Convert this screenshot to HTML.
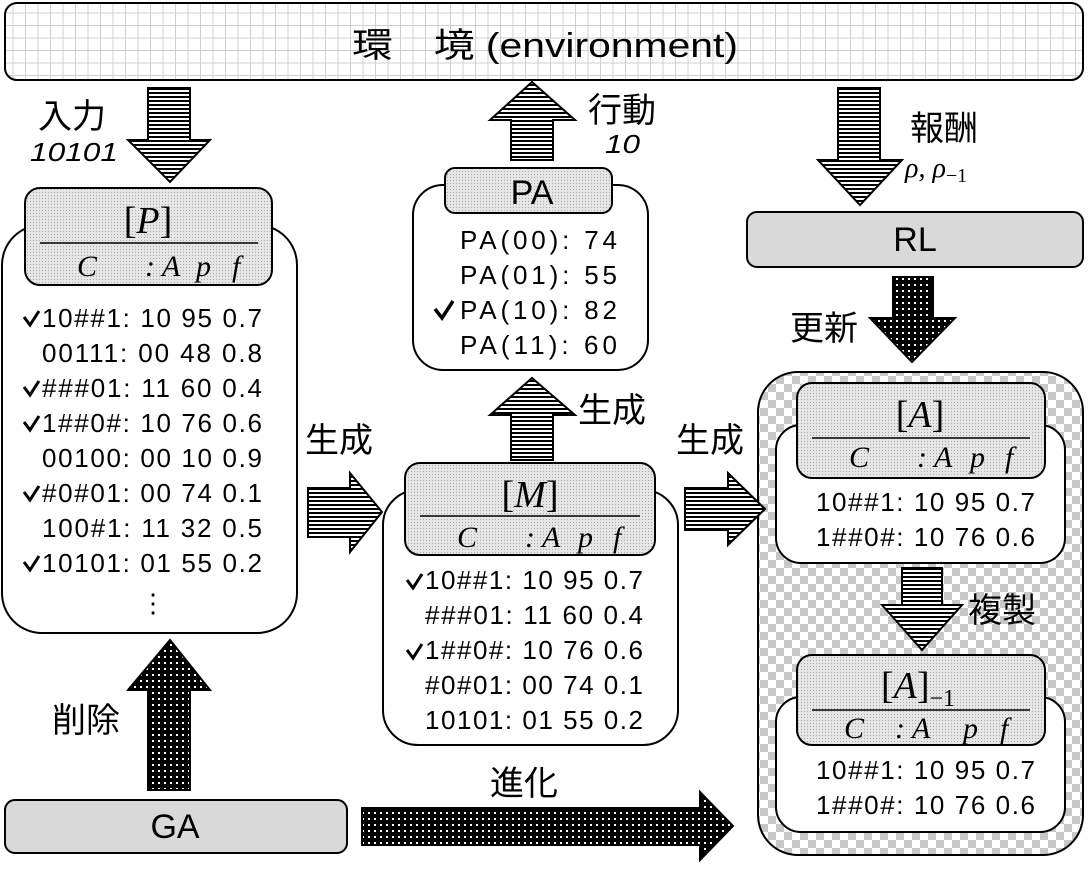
<!DOCTYPE html>
<html><head><meta charset="utf-8"><style>body{margin:0;background:#fff}svg{display:block}</style></head><body>
<svg width="1088" height="869" viewBox="0 0 1088 869" xmlns="http://www.w3.org/2000/svg" font-family="Liberation Sans, Noto Sans CJK JP, sans-serif">
<defs>
<pattern id="grid" width="12.5" height="12.5" patternUnits="userSpaceOnUse"><rect width="12.5" height="12.5" fill="#fff"/><path d="M0 0H12.5M0 0V12.5" stroke="#d0d0d0" stroke-width="2"/></pattern>
<pattern id="stripe" width="4" height="4" patternUnits="userSpaceOnUse"><rect width="4" height="4" fill="#fff"/><rect width="4" height="2" fill="#000"/></pattern>
<pattern id="dots" width="6" height="6" patternUnits="userSpaceOnUse"><rect width="6" height="6" fill="#000"/><rect x="2" y="2" width="2" height="2" fill="#fff"/></pattern>
<pattern id="gdot" width="3" height="3" patternUnits="userSpaceOnUse"><rect width="3" height="3" fill="#e6e6e6"/><rect width="1" height="1" fill="#aaa"/></pattern>
<pattern id="check" width="16" height="16" patternUnits="userSpaceOnUse"><rect width="16" height="16" fill="#fff"/><rect width="8" height="8" fill="#c8c8c8"/><rect x="8" y="8" width="8" height="8" fill="#c8c8c8"/></pattern>
</defs>
<g stroke="#000" stroke-width="2">
<rect x="5" y="3" width="1078" height="77" rx="12" fill="url(#grid)"/>
<!-- boxes -->
<rect x="2" y="225" width="295" height="408" rx="40" fill="#fff"/>
<rect x="25" y="188" width="247" height="97" rx="15" fill="url(#gdot)"/>
<rect x="413" y="185" width="235" height="185" rx="30" fill="#fff"/>
<rect x="445" y="168" width="167" height="45" rx="10" fill="url(#gdot)"/>
<rect x="747" y="212" width="336" height="55" rx="10" fill="#d9d9d9"/>
<rect x="383" y="490" width="295" height="255" rx="35" fill="#fff"/>
<rect x="405" y="463" width="250" height="92" rx="15" fill="url(#gdot)"/>
<rect x="758" y="372" width="325" height="483" rx="40" fill="url(#check)"/>
<rect x="776" y="425" width="289" height="138" rx="25" fill="#fff"/>
<rect x="797" y="383" width="248" height="95" rx="15" fill="url(#gdot)"/>
<rect x="776" y="697" width="289" height="135" rx="25" fill="#fff"/>
<rect x="797" y="655" width="248" height="90" rx="15" fill="url(#gdot)"/>
<rect x="5" y="800" width="342" height="53" rx="10" fill="#d9d9d9"/>
<path d="M40 243H258M420 516H640M812 438H1030M812 710H1030" stroke-width="1.5" fill="none"/>
<!-- arrows -->
<path d="M148 88H190V140H210L170 182L128 140H148Z" fill="url(#stripe)"/>
<path d="M511 160H553V120H575L532 82L490 120H511Z" fill="url(#stripe)"/>
<path d="M838 88H880V160H902L860 205L818 160H838Z" fill="url(#stripe)"/>
<path d="M893 277H933V318H955L912 362L870 318H893Z" fill="url(#dots)"/>
<path d="M511 460H553V415H575L532 378L490 415H511Z" fill="url(#stripe)"/>
<path d="M308 488H350V473L382 512L350 552V537H308Z" fill="url(#stripe)"/>
<path d="M685 488H728V473L765 509L728 545V530H685Z" fill="url(#stripe)"/>
<path d="M902 568H942V605H962L922 650L882 605H902Z" fill="url(#stripe)"/>
<path d="M148 790H190V690H210L170 640L128 690H148Z" fill="url(#dots)"/>
<path d="M362 808H700V792L733 826L700 860V845H362Z" fill="url(#dots)"/>
</g>
<g font-size="34">
<text x="352" y="57" textLength="386" lengthAdjust="spacingAndGlyphs">環　境 (environment)</text>
<text x="532" y="204" text-anchor="middle">PA</text>
<text x="915" y="251" text-anchor="middle">RL</text>
<text x="175" y="838" text-anchor="middle">GA</text>
</g>
<g font-size="34">
<text x="38" y="128">入力</text>
<text x="588" y="122">行動</text>
<text x="910" y="140">報酬</text>
<text x="790" y="340">更新</text>
<text x="578" y="422">生成</text>
<text x="305" y="452">生成</text>
<text x="676" y="452">生成</text>
<text x="968" y="622">複製</text>
<text x="52" y="732">削除</text>
<text x="490" y="795">進化</text>
</g>
<g font-size="26" font-style="italic">
<text x="30" y="161" textLength="88" lengthAdjust="spacingAndGlyphs">10101</text>
<text x="605" y="153" textLength="35" lengthAdjust="spacingAndGlyphs">10</text>
</g>
<g font-family="Liberation Serif, serif" font-size="28" font-style="italic">
<text x="905" y="177">ρ, ρ<tspan font-size="20" dy="5" font-style="normal">−1</tspan></text>
</g>
<g font-family="Liberation Serif, serif" text-anchor="middle">
<text x="148" y="233" font-size="38">[<tspan font-style="italic">P</tspan>]</text>
<text x="530" y="507" font-size="38">[<tspan font-style="italic">M</tspan>]</text>
<text x="920" y="427" font-size="38">[<tspan font-style="italic">A</tspan>]</text>
<text x="918" y="698" font-size="38">[<tspan font-style="italic">A</tspan>]<tspan font-size="24" dy="8" font-style="normal">−1</tspan></text>
</g>
<g font-family="Liberation Serif, serif" font-size="30" font-style="italic">
<text x="77" y="276">C</text><text x="145" y="276">: A</text><text x="196" y="276">p</text><text x="232" y="276">f</text>
<text x="457" y="547">C</text><text x="525" y="547">: A</text><text x="578" y="547">p</text><text x="613" y="547">f</text>
<text x="849" y="467">C</text><text x="917" y="467">: A</text><text x="970" y="467">p</text><text x="1005" y="467">f</text>
<text x="844" y="738">C</text><text x="895" y="738">: A</text><text x="963" y="738">p</text><text x="1000" y="738">f</text>
</g>
<g font-size="26">
<text x="42" y="327" textLength="220">10##1: 10 95 0.7</text>
<text x="42" y="362" textLength="220">00111: 00 48 0.8</text>
<text x="42" y="397" textLength="220">###01: 11 60 0.4</text>
<text x="42" y="432" textLength="220">1##0#: 10 76 0.6</text>
<text x="42" y="467" textLength="220">00100: 00 10 0.9</text>
<text x="42" y="502" textLength="220">#0#01: 00 74 0.1</text>
<text x="42" y="537" textLength="220">100#1: 11 32 0.5</text>
<text x="42" y="572" textLength="220">10101: 01 55 0.2</text>
<text x="140" y="612">⋮</text>
<text x="460" y="249" textLength="157">PA(00): 74</text>
<text x="460" y="284" textLength="157">PA(01): 55</text>
<text x="460" y="319" textLength="157">PA(10): 82</text>
<text x="460" y="354" textLength="157">PA(11): 60</text>
<text x="425" y="589" textLength="218">10##1: 10 95 0.7</text>
<text x="425" y="624" textLength="218">###01: 11 60 0.4</text>
<text x="425" y="659" textLength="218">1##0#: 10 76 0.6</text>
<text x="425" y="694" textLength="218">#0#01: 00 74 0.1</text>
<text x="425" y="729" textLength="218">10101: 01 55 0.2</text>
<text x="816" y="511" textLength="219">10##1: 10 95 0.7</text>
<text x="816" y="546" textLength="219">1##0#: 10 76 0.6</text>
<text x="816" y="779" textLength="219">10##1: 10 95 0.7</text>
<text x="816" y="814" textLength="219">1##0#: 10 76 0.6</text>
</g>
<g fill="none" stroke="#000" stroke-width="3">
<path d="M24 317l6 8l9-14M24 387l6 8l9-14M24 422l6 8l9-14M24 492l6 8l9-14M24 562l6 8l9-14"/>
<path d="M435 309l7 9l11-17" stroke-width="3.5"/>
<path d="M407 580l6 8l9-14M407 650l6 8l9-14"/>
</g>
</svg>
</body></html>
